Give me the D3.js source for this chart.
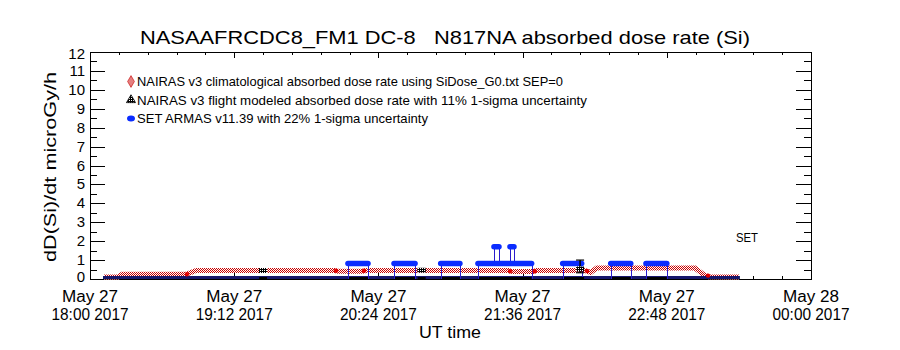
<!DOCTYPE html>
<html><head><meta charset="utf-8">
<script src="https://cdn.jsdelivr.net/npm/d3@7"></script>
<style>
body{margin:0;background:#fff}
text{font-family:"Liberation Sans",Arial,sans-serif;fill:#000}
</style>
</head><body>
<svg id="chart" width="900" height="350"></svg>
<script>
// ---------------- data ----------------
const titleText = "NASAAFRCDC8_FM1 DC-8   N817NA absorbed dose rate (Si)";
const yLabel = "dD(Si)/dt microGy/h";
const xLabel = "UT time";
const yTicks = [0,1,2,3,4,5,6,7,8,9,10,11,12];
const xTickMin = [0,72,144,216,288,360];               // minutes after May 27 18:00 UT
const xTickDate = ["May 27","May 27","May 27","May 27","May 27","May 28"];
const xTickTime = ["18:00 2017","19:12 2017","20:24 2017","21:36 2017","22:48 2017","00:00 2017"];
const legendText = [
  "NAIRAS v3 climatological absorbed dose rate using SiDose_G0.txt SEP=0",
  "NAIRAS v3 flight modeled absorbed dose rate with 11% 1-sigma uncertainty",
  "SET ARMAS v11.39 with 22% 1-sigma uncertainty"
];
const instLabel = "SET";

// NAIRAS climatological (minutes after 18:00, microGy/h)
const climoMin = [7, 14, 16, 48, 53, 122, 124, 136, 138, 209, 211, 221, 223, 247, 250, 253, 302, 307, 309, 324];
const climoVal = [0.1,0.1,0.25,0.25,0.45,0.45,0.41,0.41,0.45,0.45,0.39,0.39,0.45,0.45,0.35,0.58,0.58,0.18,0.12,0.1];
const climoDotMin = [48.4, 122.8, 136.8, 209.7, 222, 248.2, 308.6];
const climoDotVal = [0.25, 0.44, 0.44, 0.41, 0.41, 0.42, 0.18];

// NAIRAS flight modeled
const flightMin = [86.4, 165.6, 244.7];
const flightVal = [0.45, 0.46, 0.53];
const flightLo  = [0.42, 0.43, 0.33];
const flightHi  = [0.48, 0.49, 1.0];

// SET ARMAS
const setZeroStart = 6.5, setZeroEnd = 324.5;
const setStart = [128.8, 151.8, 175.1, 193.7, 236.0, 260.0, 277.6];
const setEnd   = [138.8, 162.3, 184.7, 220.5, 245.5, 270.0, 288.0];
const setVal   = [0.82, 0.82, 0.82, 0.82, 0.82, 0.82, 0.82];
const peakStart = [201.7, 209.7];
const peakEnd   = [204.2, 211.7];
const peakVal   = [1.7, 1.7];
const peakBase  = [0.82, 0.82];

// ---------------- drawing ----------------
const svg = d3.select("#chart");
const L = 90, R = 811, T = 52, B = 279;
const x = d3.scaleLinear().domain([0,360]).range([L,R]);
const y = d3.scaleLinear().domain([0,12]).range([B,T]);

const defs = svg.append("defs");
const chk = defs.append("pattern").attr("id","redchk").attr("patternUnits","userSpaceOnUse")
  .attr("width",2).attr("height",2);
chk.append("rect").attr("width",2).attr("height",2).attr("fill","#fff");
chk.append("rect").attr("width",1).attr("height",1).attr("fill","#c80000");
chk.append("rect").attr("x",1).attr("y",1).attr("width",1).attr("height",1).attr("fill","#c80000");
const hat = defs.append("pattern").attr("id","blkchk").attr("patternUnits","userSpaceOnUse")
  .attr("width",2).attr("height",2);
hat.append("rect").attr("width",2).attr("height",2).attr("fill","#000");
hat.append("rect").attr("width",1).attr("height",1).attr("fill","#fff");

// title
svg.append("text").attr("x",445).attr("y",44).attr("text-anchor","middle")
  .style("font-size","19px").style("white-space","pre")
  .attr("textLength",610).attr("lengthAdjust","spacingAndGlyphs").text(titleText);

// axes
const yMinor = d3.range(0.5,12,1);
const xMinor = d3.range(0,361,14.4).filter(v=>Math.abs(v/72-Math.round(v/72))>1e-6);
const gA = svg.append("g");
function axisLines(gen, tr, vals, size){
  const g = gA.append("g").attr("transform",tr).call(gen.tickValues(vals).tickSize(size).tickSizeOuter(0).tickFormat(""));
  g.select(".domain").remove();
  g.selectAll("line").attr("stroke","#000").attr("shape-rendering","crispEdges");
}
axisLines(d3.axisLeft(y), `translate(${L},0)`, yTicks, -15);
axisLines(d3.axisLeft(y), `translate(${L},0)`, yMinor, -7);
axisLines(d3.axisRight(y), `translate(${R},0)`, yTicks, -15);
axisLines(d3.axisRight(y), `translate(${R},0)`, yMinor, -7);
axisLines(d3.axisBottom(x), `translate(0,${B})`, xTickMin, -6);
axisLines(d3.axisBottom(x), `translate(0,${B})`, xMinor, -3);
axisLines(d3.axisTop(x), `translate(0,${T})`, xTickMin, -6);
axisLines(d3.axisTop(x), `translate(0,${T})`, xMinor, -3);
gA.append("rect").attr("x",L).attr("y",T).attr("width",R-L).attr("height",B-T)
  .attr("fill","none").attr("stroke","#000").attr("shape-rendering","crispEdges");

// y tick labels
svg.append("g").selectAll("text").data(yTicks).join("text")
  .attr("x",85).attr("text-anchor","end").style("font-size","15px")
  .attr("y",d=> y(d) + 5 + (d===12?2:0) + (d===0?-2:0))
  .text(d=>d);

// x tick labels
const xl = svg.append("g").selectAll("g").data(xTickMin).join("g");
xl.append("text").attr("x",d=>x(d)).attr("y",302).attr("text-anchor","middle")
  .style("font-size","16px").attr("textLength",56).attr("lengthAdjust","spacingAndGlyphs")
  .text((d,i)=>xTickDate[i]);
xl.append("text").attr("x",d=>x(d)).attr("y",320).attr("text-anchor","middle")
  .style("font-size","16px").attr("textLength",77).attr("lengthAdjust","spacingAndGlyphs")
  .text((d,i)=>xTickTime[i]);

svg.append("text").attr("x",450).attr("y",338).attr("text-anchor","middle")
  .style("font-size","16px").attr("textLength",62).attr("lengthAdjust","spacingAndGlyphs").text(xLabel);

svg.append("text").attr("transform","translate(56,167) rotate(-90)").attr("text-anchor","middle")
  .style("font-size","17px").attr("textLength",190).attr("lengthAdjust","spacingAndGlyphs").text(yLabel);

// plot content
const gp = svg.append("g");
const line = d3.line().x(d=>x(d[0])).y(d=>y(d[1]));

// climatological band
gp.append("path").datum(climoMin.map((m,i)=>[m,climoVal[i]]))
  .attr("d",line).attr("fill","none").attr("stroke","url(#redchk)").attr("stroke-width",5);

// SET zero baseline
gp.append("line").attr("x1",x(setZeroStart)).attr("x2",x(setZeroEnd))
  .attr("y1",y(0)-1.5).attr("y2",y(0)-1.5).attr("stroke","#16166a").attr("stroke-width",3);
// black under SET intervals
gp.selectAll(".blk").data(setStart).join("line")
  .attr("x1",d=>x(d)).attr("x2",(d,i)=>x(setEnd[i]))
  .attr("y1",y(0)-1).attr("y2",y(0)-1).attr("stroke","#000").attr("stroke-width",2);

// SET verticals
const verts = [];
setStart.forEach((s,i)=>{verts.push([s,0,setVal[i]]); verts.push([setEnd[i],0,setVal[i]]);});
peakStart.forEach((s,i)=>{verts.push([s,peakBase[i],peakVal[i]]); verts.push([peakEnd[i],peakBase[i],peakVal[i]]);});
gp.selectAll(".vt").data(verts).join("line")
  .attr("x1",d=>Math.round(x(d[0]))+0.5).attr("x2",d=>Math.round(x(d[0]))+0.5)
  .attr("y1",d=>y(d[1])).attr("y2",d=>y(d[2])).attr("stroke","#2a1ccc").attr("stroke-width",1);

// SET bars
gp.selectAll(".bar").data(setStart).join("line")
  .attr("x1",d=>x(d)).attr("x2",(d,i)=>x(setEnd[i]))
  .attr("y1",(d,i)=>y(setVal[i])).attr("y2",(d,i)=>y(setVal[i]))
  .attr("stroke","#0a2cff").attr("stroke-width",5.5).attr("stroke-linecap","round");
gp.selectAll(".pk").data(peakStart).join("line")
  .attr("x1",d=>x(d)).attr("x2",(d,i)=>x(peakEnd[i]))
  .attr("y1",(d,i)=>y(peakVal[i])).attr("y2",(d,i)=>y(peakVal[i]))
  .attr("stroke","#0a2cff").attr("stroke-width",5.5).attr("stroke-linecap","round");

// climatological dots
gp.selectAll(".cd").data(climoDotMin).join("circle")
  .attr("cx",d=>x(d)).attr("cy",(d,i)=>y(climoDotVal[i])).attr("r",2.2).attr("fill","#e00000");

// flight modeled markers
const fg = gp.selectAll(".fm").data(flightMin).join("g");
fg.append("line").attr("x1",d=>x(d)).attr("x2",d=>x(d))
  .attr("y1",(d,i)=>y(flightLo[i])).attr("y2",(d,i)=>y(flightHi[i])).attr("stroke","#000").attr("stroke-width",1.5);
fg.append("line").attr("x1",d=>x(d)-4).attr("x2",d=>x(d)+4)
  .attr("y1",(d,i)=>y(flightHi[i])).attr("y2",(d,i)=>y(flightHi[i])).attr("stroke","#000").attr("stroke-width",1.2);
fg.append("line").attr("x1",d=>x(d)-4).attr("x2",d=>x(d)+4)
  .attr("y1",(d,i)=>y(flightLo[i])).attr("y2",(d,i)=>y(flightLo[i])).attr("stroke","#000").attr("stroke-width",1.2);
fg.append("rect").attr("x",d=>x(d)-4).attr("y",(d,i)=>y(flightVal[i])-2.5).attr("width",8).attr("height",5)
  .attr("fill","url(#blkchk)");
fg.append("line").attr("x1",d=>x(d)-4).attr("x2",d=>x(d)+4)
  .attr("y1",y(0)-1).attr("y2",y(0)-1).attr("stroke","#000").attr("stroke-width",2);

// legend
const lg = svg.append("g");
const ly = [86, 104.5, 123];
lg.selectAll("text").data(legendText).join("text")
  .attr("x",137).attr("y",(d,i)=>ly[i]).style("font-size","13px")
  .attr("textLength",(d,i)=>[426,450,291][i]).attr("lengthAdjust","spacingAndGlyphs")
  .text(d=>d);
lg.append("path").attr("d",d3.symbol(d3.symbolDiamond,40)()).attr("transform",`translate(131,${ly[0]-4.5})`)
  .attr("fill","url(#redchk)").attr("stroke","#c80000").attr("stroke-width",0.6);
lg.append("path").attr("d",d3.symbol(d3.symbolTriangle,36)()).attr("transform",`translate(131,${ly[1]-4.5})`)
  .attr("fill","url(#blkchk)").attr("stroke","#000").attr("stroke-width",0.8);
lg.append("ellipse").attr("cx",131).attr("cy",ly[2]-4.5).attr("rx",4).attr("ry",3).attr("fill","#0a2cff");

svg.append("text").attr("x",736).attr("y",242).style("font-size","12.5px")
  .attr("textLength",22).attr("lengthAdjust","spacingAndGlyphs").text(instLabel);
</script>
</body></html>
